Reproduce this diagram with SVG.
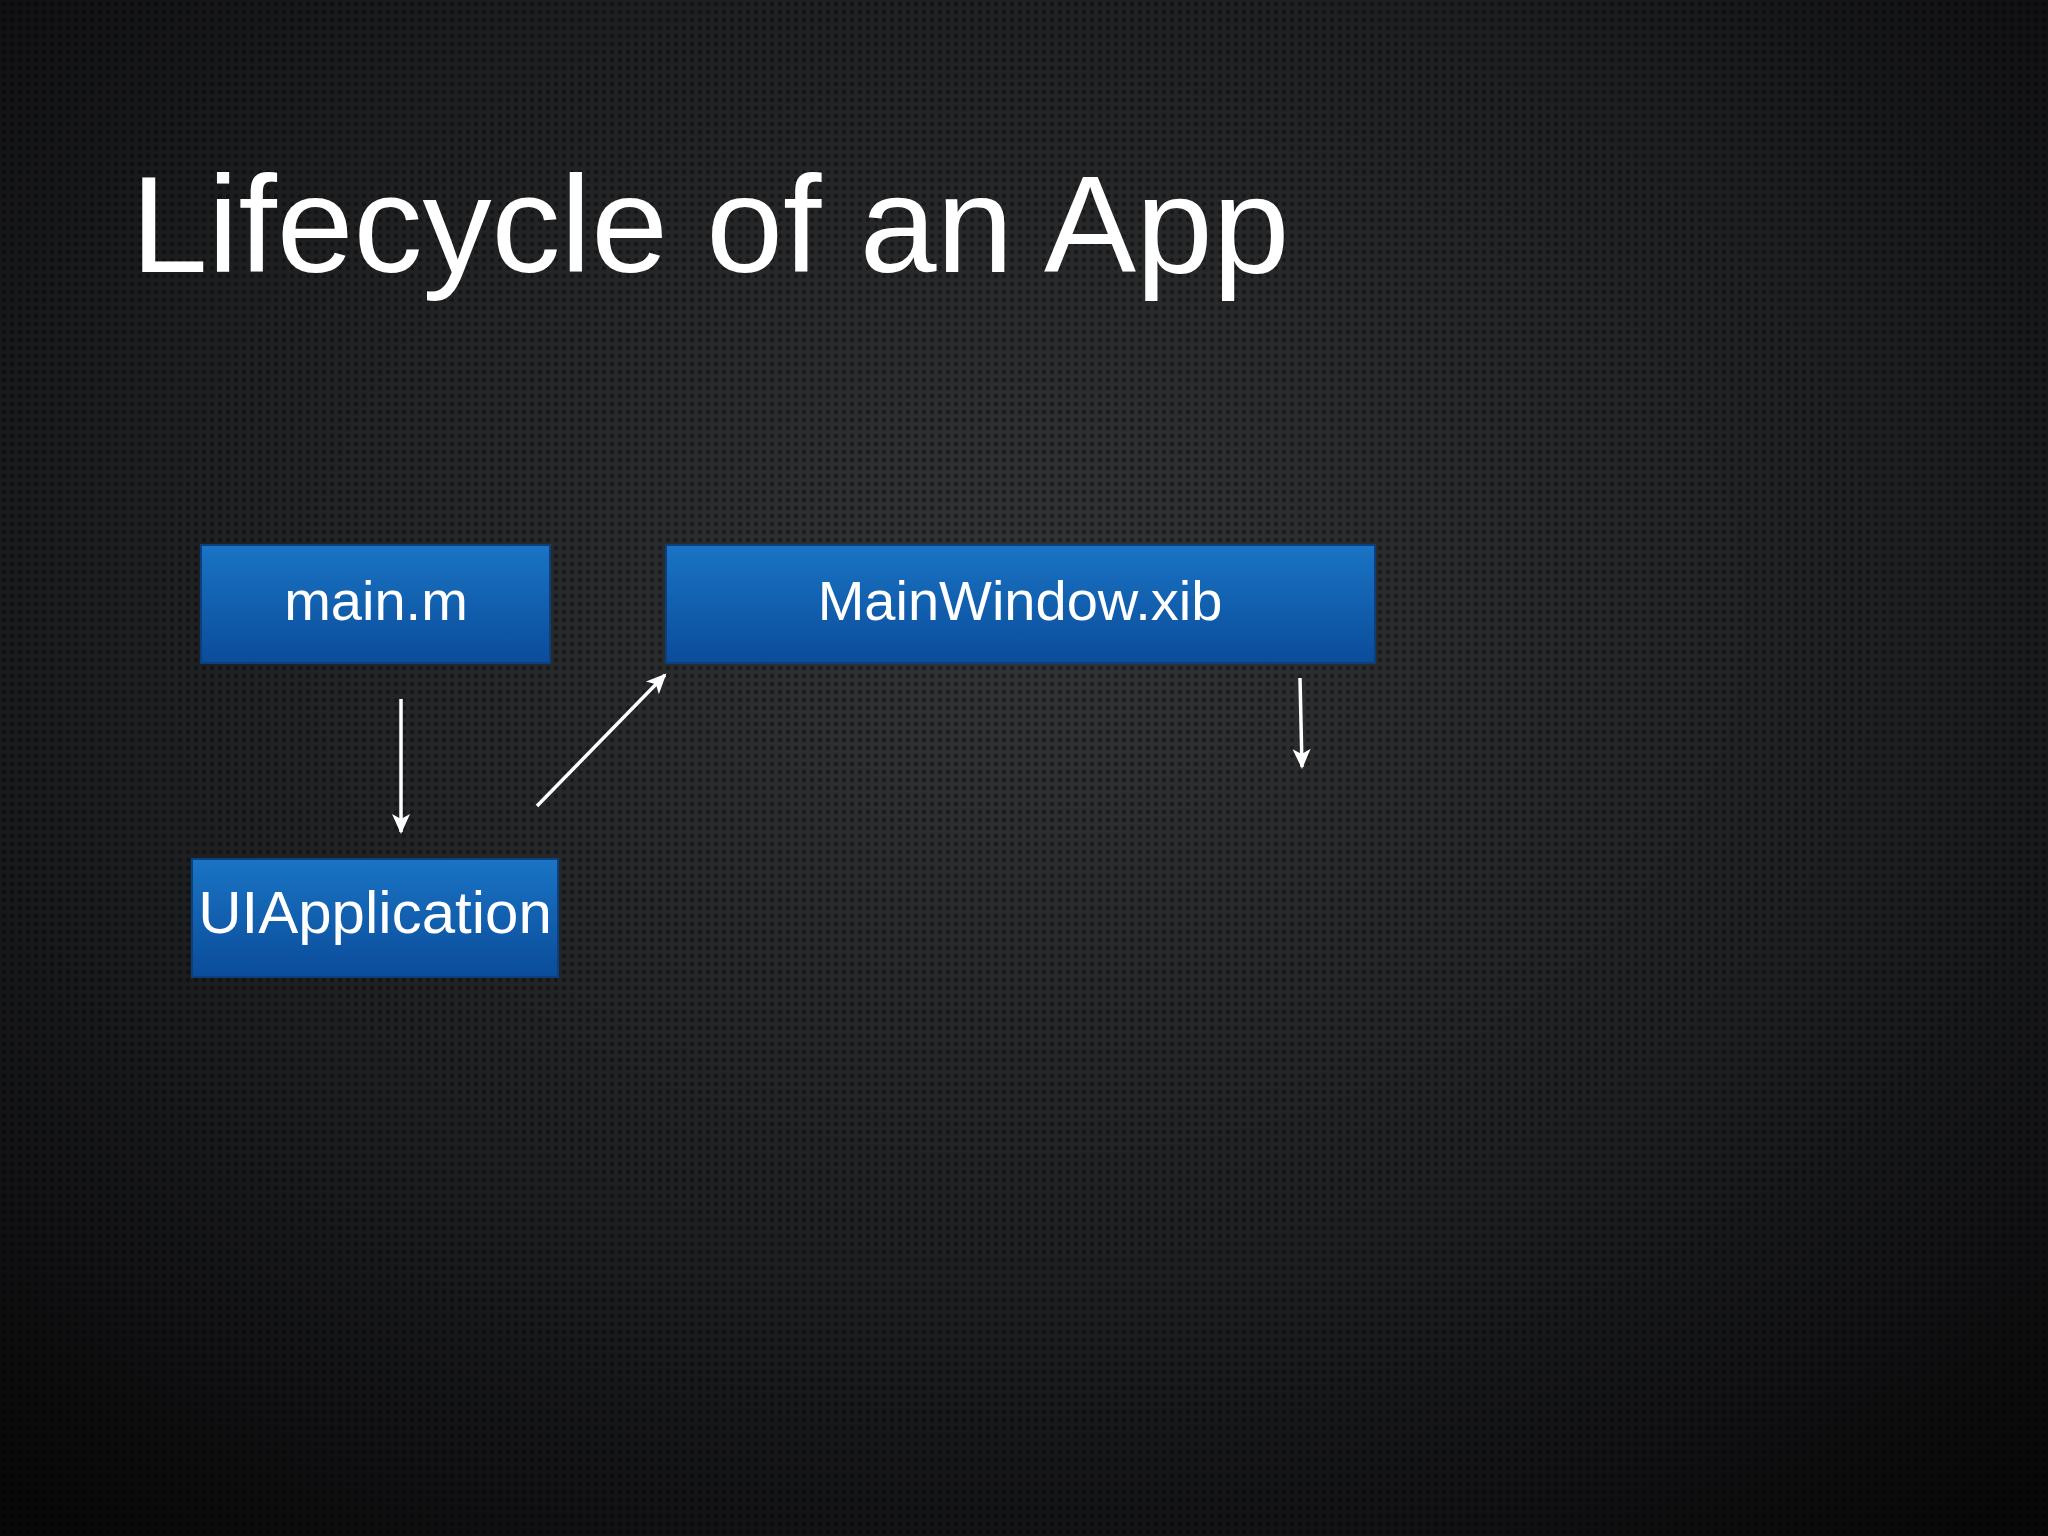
<svg xmlns="http://www.w3.org/2000/svg" width="2048" height="1536" viewBox="0 0 2048 1536">
<defs>
<radialGradient id="bg" cx="0.5" cy="0.4" r="0.75">
<stop offset="0" stop-color="#333436"/>
<stop offset="0.6" stop-color="#1d1e20"/>
<stop offset="1" stop-color="#080809"/>
</radialGradient>
<pattern id="dots" width="8" height="8" patternUnits="userSpaceOnUse">
<circle cx="4" cy="4" r="2.2" fill="#000" fill-opacity="0.4"/>
</pattern>
<linearGradient id="box" x1="0" y1="0" x2="0" y2="1">
<stop offset="0" stop-color="#1a74c4"/>
<stop offset="1" stop-color="#0a4c9a"/>
</linearGradient>
<marker id="ahb" markerWidth="22" markerHeight="22" refX="18" refY="11" orient="auto" markerUnits="userSpaceOnUse" viewBox="0 0 22 22">
<path d="M0,2 L20,11 L0,20 L5,11 Z" fill="#fff"/>
</marker>
</defs>
<style>
.node rect{fill:url(#box);stroke:#0b3f7e;stroke-width:2}
.node text{font-family:"Liberation Sans",Arial,sans-serif;font-size:56px;fill:#fff;text-anchor:middle}
.conn line{stroke:#fff;stroke-width:3.5;marker-end:url(#ahb)}
</style>
<rect width="2048" height="1536" fill="url(#bg)"/>
<rect width="2048" height="1536" fill="url(#dots)"/>
<text x="131" y="272" font-family="Liberation Sans,Arial,sans-serif" font-size="138" fill="#fff">Lifecycle of an App</text>
<g id="main-m" class="node"><rect x="201" y="545" width="349" height="118"/><text x="376" y="620">main.m</text></g>
<g id="mainwindow-xib" class="node"><rect x="666" y="545" width="709" height="118"/><text x="1020" y="620">MainWindow.xib</text></g>
<g id="uiapplication" class="node"><rect x="192" y="859" width="366" height="118"/><text x="375" y="933" style="font-size:60px">UIApplication</text></g>
<g id="connectors" class="conn">
<line x1="401" y1="699" x2="401" y2="832"/>
<line x1="537" y1="806" x2="665" y2="675"/>
<line x1="1300" y1="678" x2="1302" y2="767"/>
</g>
</svg>
